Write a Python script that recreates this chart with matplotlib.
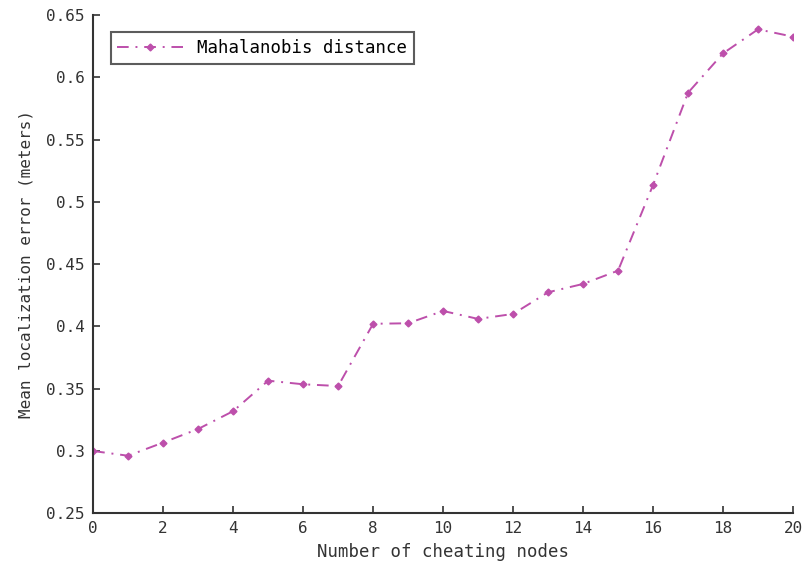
import matplotlib
matplotlib.use('Agg')
import matplotlib.pyplot as plt

nodes = list(range(21))
mahalanobis = [0.2998, 0.296, 0.3066, 0.3175, 0.3318, 0.3563, 0.3534, 0.352, 0.402, 0.4024,
               0.4123, 0.4059, 0.4099, 0.4273, 0.434, 0.4447, 0.5135, 0.5876, 0.6192, 0.6385, 0.6326]
xticks = list(range(0, 21, 2))
yticks = [0.25, 0.3, 0.35, 0.4, 0.45, 0.5, 0.55, 0.6, 0.65]
ytick_labels = ['0.25', '0.3', '0.35', '0.4', '0.45', '0.5', '0.55', '0.6', '0.65']

plt.rcParams['font.family'] = 'DejaVu Sans Mono'
plt.rcParams['font.size'] = 12

fig = plt.figure(figsize=(8.03, 5.69), dpi=100)
ax = fig.add_axes([0.116, 0.0984, 0.8716, 0.8752])

color = '#bd4fab'
ax.plot(nodes, mahalanobis, linestyle=(0, (6, 3.5, 1, 3.5)), color=color, linewidth=1.4,
        marker='D', markersize=3.5, label='Mahalanobis distance')

ax.set_xlim(0, 20)
ax.set_ylim(0.25, 0.65)
ax.set_xticks(xticks)
ax.set_yticks(yticks)
ax.set_yticklabels(ytick_labels)
ax.tick_params(direction='in', length=5, width=1.2, color='#333333',
               labelcolor='#333333', labelsize=11.5, pad=6)
ax.spines['top'].set_visible(False)
ax.spines['right'].set_visible(False)
for s in ['left', 'bottom']:
    ax.spines[s].set_linewidth(1.5)
    ax.spines[s].set_color('#333333')

ax.set_xlabel('Number of cheating nodes', color='#333333', fontsize=12.5, labelpad=5)
ax.set_ylabel('Mean localization error (meters)', color='#333333', fontsize=11.5, labelpad=9)

leg = ax.legend(loc='upper left', fancybox=False, edgecolor='#333333',
                borderaxespad=1.0, handlelength=3.8, fontsize=12.5)
leg.get_frame().set_linewidth(1.5)

fig.savefig('out.png', dpi=100)
